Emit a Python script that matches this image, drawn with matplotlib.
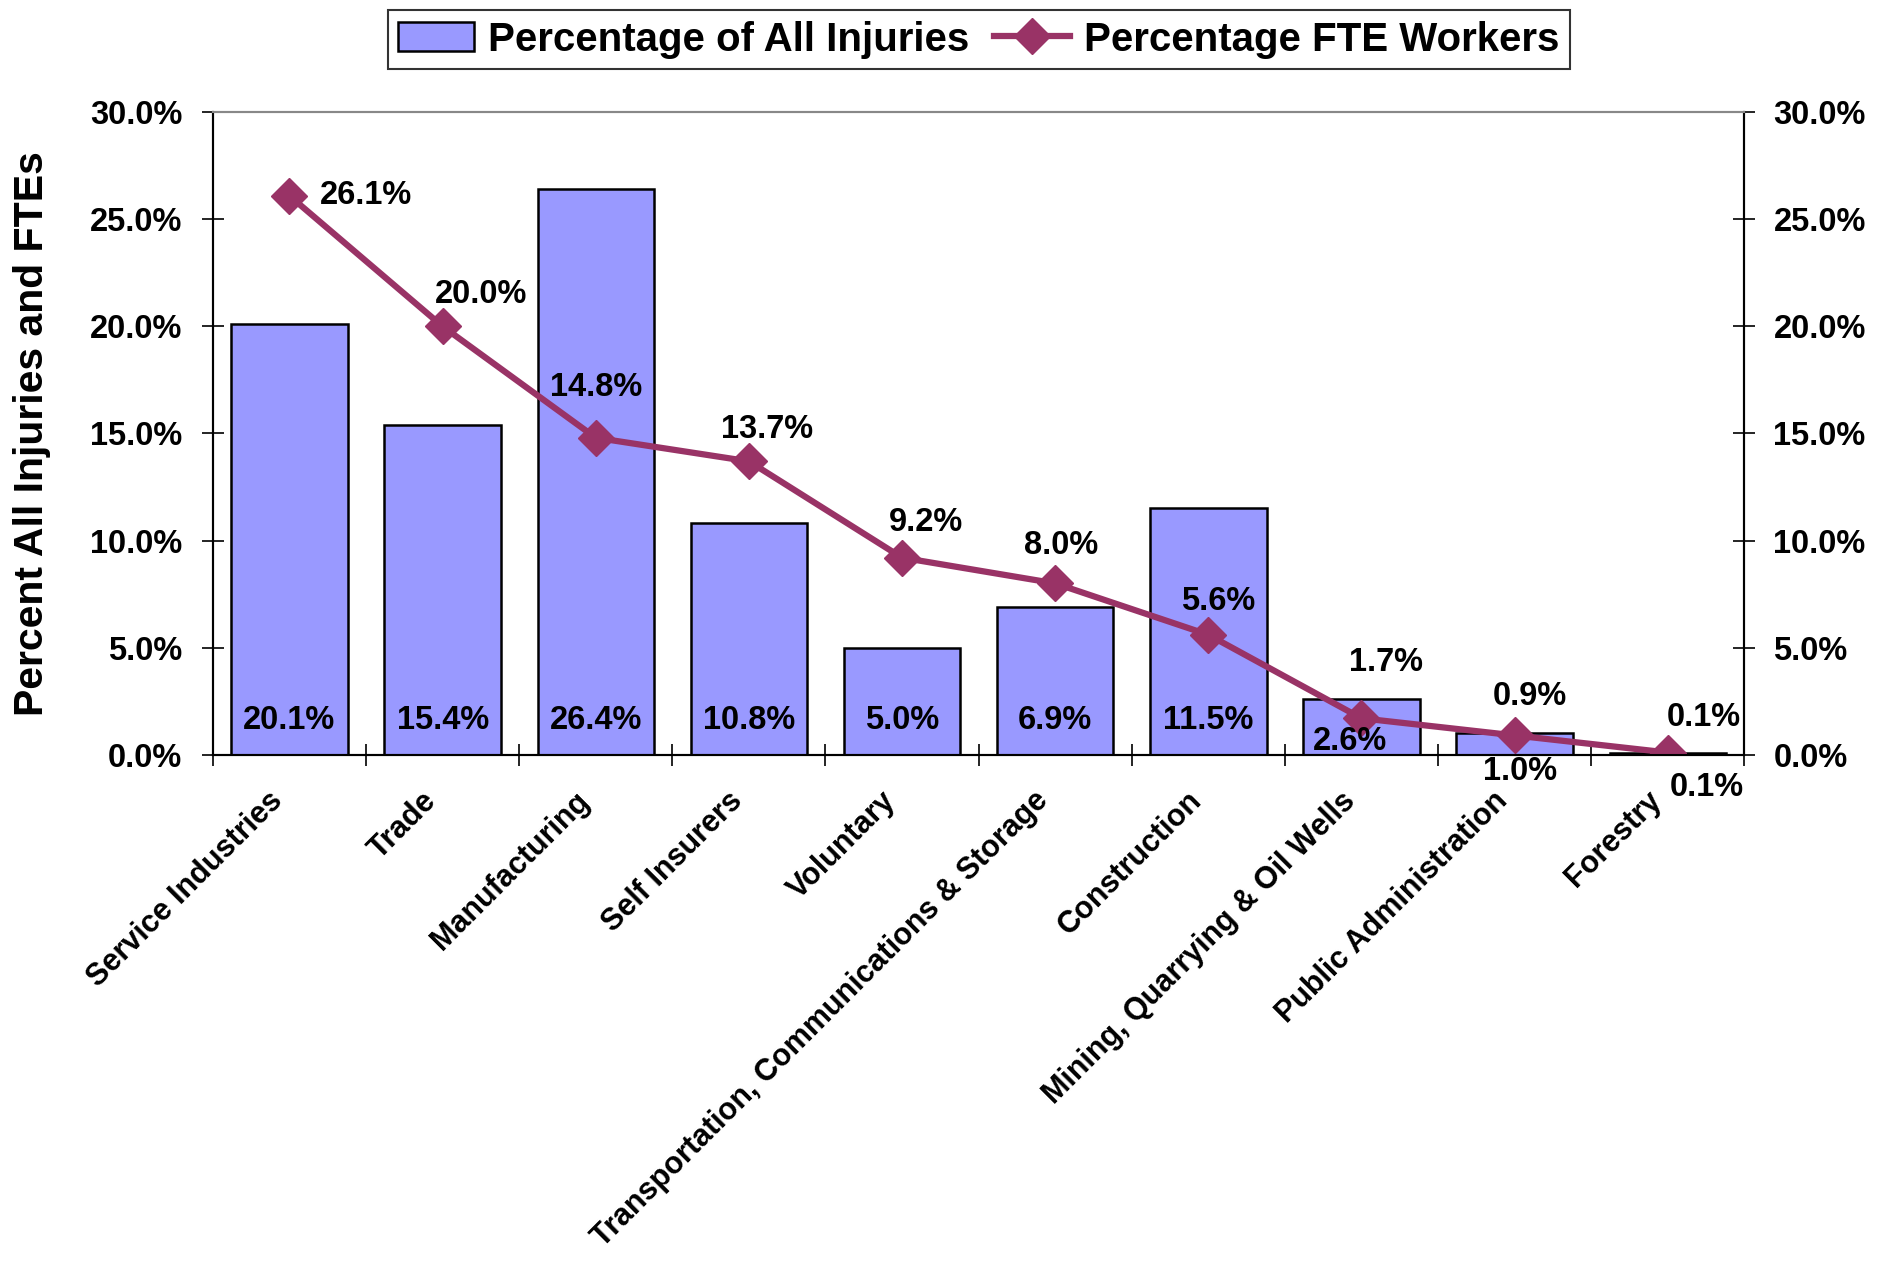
import matplotlib
matplotlib.use("Agg")
import matplotlib.pyplot as plt
import matplotlib.transforms as mtransforms
import numpy as np

plt.rcParams['font.family'] = ['Liberation Sans', 'DejaVu Sans']
plt.rcParams['font.weight'] = 'bold'

categories = ["Service Industries", "Trade", "Manufacturing", "Self Insurers", "Voluntary",
              "Transportation, Communications & Storage", "Construction",
              "Mining, Quarrying & Oil Wells", "Public Administration", "Forestry"]
injuries = [20.1, 15.4, 26.4, 10.8, 5.0, 6.9, 11.5, 2.6, 1.0, 0.1]
fte_workers = [26.1, 20.0, 14.8, 13.7, 9.2, 8.0, 5.6, 1.7, 0.9, 0.1]

# label placement (points offsets / y in data units)
line_lbl_off = [(55, 0), (28, 23), (0, 36), (13, 23), (17, 25), (4, 27), (7, 24), (18, 40), (11, 28), (26, 25)]
bar_lbl_y = [1.6] * 7 + [0.6, -0.8, -1.55]
bar_lbl_dx = [0] * 7 + [-8, 4, 28]

bar_color = "#9999FF"
line_color = "#993366"

fig = plt.figure(figsize=(18.96, 12.62), dpi=100)
ax = fig.add_axes([0.1123, 0.402, 0.8077, 0.509])
x = np.arange(len(categories))

bars = ax.bar(x, injuries, width=0.76, color=bar_color, edgecolor="black", linewidth=1.8,
              label="Percentage of All Injuries", zorder=2)
ln, = ax.plot(x, fte_workers, color=line_color, linewidth=4.5, marker="D", markersize=18,
              label="Percentage FTE Workers", zorder=3)

for i, v in enumerate(injuries):
    ax.annotate(f"{v:.1f}%", (x[i], bar_lbl_y[i]), xytext=(bar_lbl_dx[i], 0), textcoords="offset points",
                ha="center", va="center", fontsize=23.5, fontweight="bold", zorder=4, annotation_clip=False)
for i, v in enumerate(fte_workers):
    ax.annotate(f"{v:.1f}%", (x[i], v), xytext=line_lbl_off[i], textcoords="offset points",
                ha="center", va="center", fontsize=23.5, fontweight="bold", zorder=4)

ax.set_xlim(-0.5, len(categories) - 0.5)
ax.set_ylim(0, 30)
yt = np.arange(0, 31, 5)
ax.set_yticks(yt)
ax.set_yticklabels([f"{t:.1f}%" for t in yt], fontsize=23.5, fontweight="bold")
ax.set_xticks(x)
ax.set_xticklabels(categories, rotation=45, ha="right", va="center", rotation_mode="anchor",
                   fontsize=22, fontweight="bold")
ax.tick_params(axis="x", which="major", length=0, pad=30)
shift = mtransforms.ScaledTranslation(-0.11, 0, fig.dpi_scale_trans)
for lbl in ax.get_xticklabels():
    lbl.set_transform(lbl.get_transform() + shift)
ax.set_xticks(np.arange(-0.5, len(categories), 1), minor=True)
ax.tick_params(axis="x", which="minor", direction="inout", length=16, width=1.2)
ax.tick_params(axis="y", direction="inout", length=16, width=1.2, pad=14)
ax.set_ylabel("Percent All Injuries and FTEs", fontsize=29.5, fontweight="bold", labelpad=28)

ax2 = ax.twinx()
ax2.set_ylim(0, 30)
ax2.set_yticks(yt)
ax2.set_yticklabels([f"{t:.1f}%" for t in yt], fontsize=23.5, fontweight="bold")
ax2.tick_params(axis="y", direction="inout", length=16, width=1.2, pad=13)

for a in (ax, ax2):
    for s in a.spines.values():
        s.set_linewidth(1.5)
    a.spines["top"].set_color("#888888")

leg = ax.legend(handles=[bars, ln], loc="lower center", bbox_to_anchor=(0.5, 1.068), ncol=2,
                fontsize=29, frameon=True, fancybox=False, edgecolor="black", borderpad=0.25,
                handlelength=1.9, handletextpad=0.35, columnspacing=0.6, borderaxespad=0)
leg.get_frame().set_linewidth(1.5)
for t in leg.get_texts():
    t.set_fontweight("bold")

fig.savefig("out.png", dpi=100)
